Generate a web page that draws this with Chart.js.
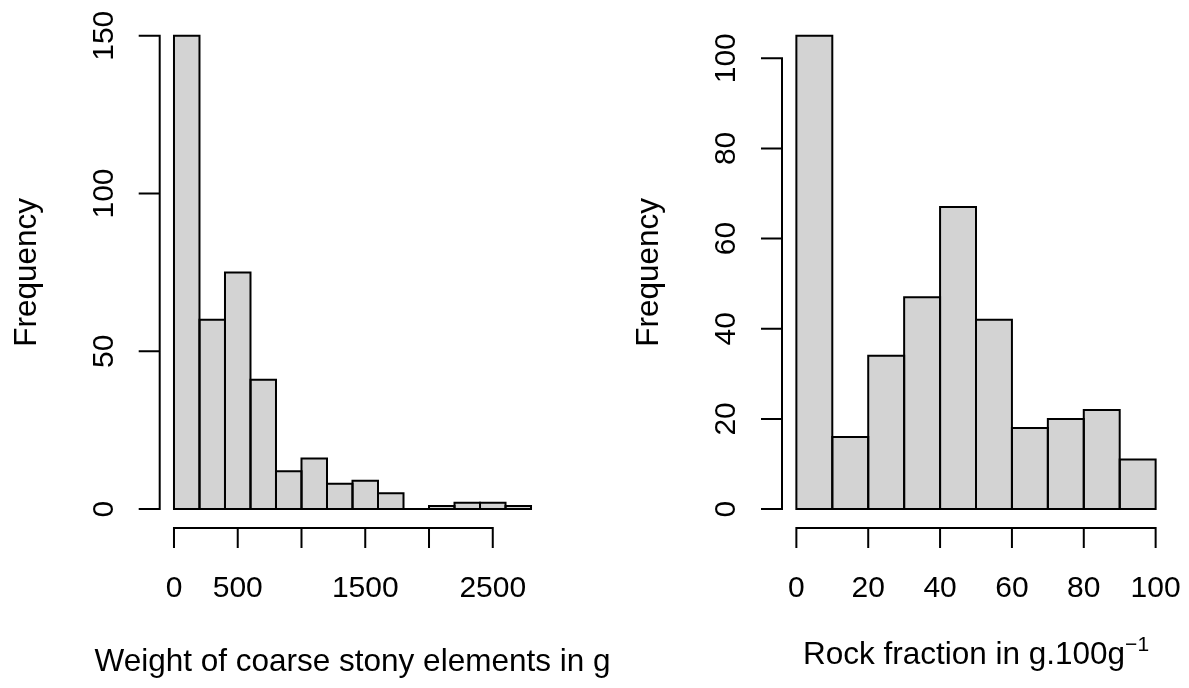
<!DOCTYPE html>
<html>
<head>
<meta charset="utf-8">
<script src="https://cdn.jsdelivr.net/npm/chart.js@4.4.1/dist/chart.umd.min.js"></script>
<style>
  html, body { margin: 0; padding: 0; background: #ffffff; }
  #wrap { position: relative; width: 1189px; height: 688px; background: #ffffff; }
  canvas { position: absolute; top: 0; left: 0; }
</style>
</head>
<body>
<div id="wrap">
  <canvas id="weightChart" width="1189" height="688"></canvas>
  <canvas id="rockChart" width="1189" height="688"></canvas>
</div>
<script>
// Weight of coarse stony elements (g): bin lower edges, counts, axis ticks
const weightBins = [0, 200, 400, 600, 800, 1000, 1200, 1400, 1600, 1800, 2000, 2200, 2400, 2600];
const weightCounts = [150, 60, 75, 41, 12, 16, 8, 9, 5, 0, 1, 2, 2, 1];
const weightXTicks = [0, 500, 1000, 1500, 2000, 2500];
const weightXLabels = ['0', '500', '', '1500', '', '2500'];
const weightYTicks = [0, 50, 100, 150];

// Rock fraction (g per 100 g): bin lower edges, counts, axis ticks
const rockBins = [0, 10, 20, 30, 40, 50, 60, 70, 80, 90];
const rockCounts = [105, 16, 34, 47, 67, 42, 18, 20, 22, 11];
const rockXTicks = [0, 20, 40, 60, 80, 100];
const rockXLabels = ['0', '20', '40', '60', '80', '100'];
const rockYTicks = [0, 20, 40, 60, 80, 100];

const FONT = '"Liberation Sans", Arial, Helvetica, sans-serif';
const TICK_PX = 30;
const TITLE_PX = 31.5;

// Base-graphics style outlines and axes, drawn from the chart's own scales
const histAxes = {
  id: 'histAxes',
  afterDatasetsDraw(chart) {
    const o = chart.options.plugins.histAxes;
    const ctx = chart.ctx;
    const xs = chart.scales.x, ys = chart.scales.y;
    const ca = chart.chartArea;

    ctx.save();
    ctx.strokeStyle = '#000000';
    ctx.fillStyle = '#000000';
    ctx.lineWidth = 2;
    ctx.lineCap = 'square';

    // bar outlines (shared edges drawn once, centred on the edge)
    chart.getDatasetMeta(0).data.forEach(bar => {
      const p = bar.getProps(['x', 'y', 'base', 'width'], true);
      const l = p.x - p.width / 2, r = p.x + p.width / 2;
      ctx.beginPath();
      ctx.moveTo(l, p.base);
      ctx.lineTo(l, p.y);
      ctx.lineTo(r, p.y);
      ctx.lineTo(r, p.base);
      ctx.closePath();
      ctx.stroke();
    });

    // y axis
    const yFirst = ys.getPixelForValue(o.yTicks[0]);
    const yLast = ys.getPixelForValue(o.yTicks[o.yTicks.length - 1]);
    ctx.beginPath();
    ctx.moveTo(ca.left, yFirst);
    ctx.lineTo(ca.left, yLast);
    o.yTicks.forEach(v => {
      const py = ys.getPixelForValue(v);
      ctx.moveTo(ca.left - 20, py);
      ctx.lineTo(ca.left, py);
    });
    ctx.stroke();

    ctx.font = TICK_PX + 'px ' + FONT;
    ctx.textAlign = 'center';
    ctx.textBaseline = 'alphabetic';
    o.yTicks.forEach(v => {
      const py = ys.getPixelForValue(v);
      ctx.save();
      ctx.translate(ca.left - 47, py);
      ctx.rotate(-Math.PI / 2);
      ctx.fillText(String(v), 0, 0);
      ctx.restore();
    });

    // x axis, offset below the plot region
    const xFirst = xs.getPixelForValue(o.xTicks[0]);
    const xLast = xs.getPixelForValue(o.xTicks[o.xTicks.length - 1]);
    ctx.beginPath();
    ctx.moveTo(xFirst, ca.bottom);
    ctx.lineTo(xLast, ca.bottom);
    o.xTicks.forEach(v => {
      const px = xs.getPixelForValue(v);
      ctx.moveTo(px, ca.bottom);
      ctx.lineTo(px, ca.bottom + 19);
    });
    ctx.stroke();
    o.xTicks.forEach((v, i) => {
      const txt = o.xLabels[i];
      if (txt) ctx.fillText(txt, xs.getPixelForValue(v), ca.bottom + 69);
    });

    // axis titles
    ctx.font = TITLE_PX + 'px ' + FONT;
    const cx = (ca.left + ca.right) / 2;
    const cy = (ca.top + ca.bottom) / 2;
    ctx.save();
    ctx.translate(ca.left - 124, cy);
    ctx.rotate(-Math.PI / 2);
    ctx.fillText(o.yTitle, 0, 0);
    ctx.restore();

    const tb = ca.bottom + o.titleOffset;
    if (o.xTitleSup) {
      const mainW = ctx.measureText(o.xTitle).width;
      ctx.font = o.supPx + 'px ' + FONT;
      const supW = ctx.measureText(o.xTitleSup).width;
      const start = cx - (mainW + supW) / 2;
      ctx.textAlign = 'left';
      ctx.font = TITLE_PX + 'px ' + FONT;
      ctx.fillText(o.xTitle, start, tb);
      ctx.font = o.supPx + 'px ' + FONT;
      ctx.fillText(o.xTitleSup, start + mainW, tb - o.supRaise);
    } else {
      ctx.fillText(o.xTitle, cx, tb);
    }
    ctx.restore();
  }
};

function histogram(canvasId, bins, counts, binWidth, xRange, yRange, padding, axes) {
  const points = bins.map((b, i) => ({ x: b + binWidth / 2, y: counts[i] }));
  return new Chart(document.getElementById(canvasId), {
    type: 'bar',
    data: {
      datasets: [{
        data: points,
        backgroundColor: '#d3d3d3',
        borderWidth: 0,
        barPercentage: 1,
        categoryPercentage: 1,
        inflateAmount: 0
      }]
    },
    options: {
      responsive: false,
      animation: false,
      devicePixelRatio: 1,
      layout: { padding: padding },
      plugins: {
        legend: { display: false },
        tooltip: { enabled: false },
        histAxes: axes
      },
      scales: {
        x: {
          type: 'linear',
          min: xRange[0],
          max: xRange[1],
          offset: false,
          display: false,
          afterBuildTicks: s => { s.ticks = axes.xTicks.map(v => ({ value: v })); }
        },
        y: {
          type: 'linear',
          min: yRange[0],
          max: yRange[1],
          display: false
        }
      }
    },
    plugins: [histAxes]
  });
}

// axis ranges carry the usual 4% margin beyond the data range
histogram('weightChart', weightBins, weightCounts, 200,
  [-112, 2912], [-6, 156],
  { left: 159.7, right: 643.7, top: 16.8, bottom: 160 },
  {
    xTicks: weightXTicks, xLabels: weightXLabels, yTicks: weightYTicks,
    yTitle: 'Frequency', xTitle: 'Weight of coarse stony elements in g',
    titleOffset: 142.7
  });

histogram('rockChart', rockBins, rockCounts, 10,
  [-4, 104], [-4.2, 109.2],
  { left: 782, right: 19, top: 16.8, bottom: 160 },
  {
    xTicks: rockXTicks, xLabels: rockXLabels, yTicks: rockYTicks,
    yTitle: 'Frequency', xTitle: 'Rock fraction in g.100g', xTitleSup: '\u22121',
    supPx: 21, supRaise: 13, titleOffset: 136.3
  });
</script>
</body>
</html>
